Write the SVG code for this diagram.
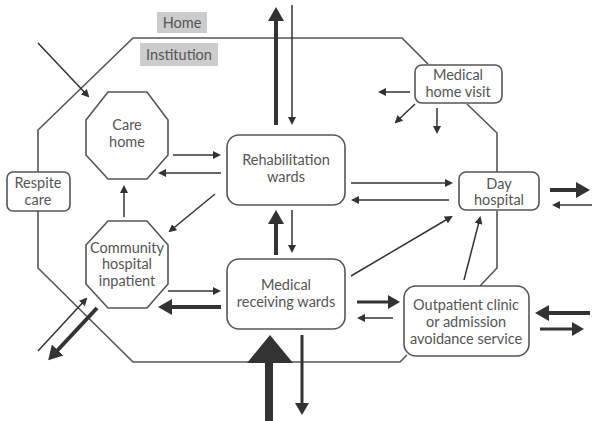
<svg xmlns="http://www.w3.org/2000/svg" width="592" height="421" viewBox="0 0 592 421">
<style>
.bg{fill:#fff}
.node{fill:#fff;stroke:#555;stroke-width:1.6}
.lbl{fill:#ccc}
.t{font-family:Lato,"Open Sans","DejaVu Sans",sans-serif;font-size:14.5px;fill:#555;text-anchor:middle}
.bound{fill:none;stroke:#555;stroke-width:1.6}
.thin{fill:none;stroke:#333;stroke-width:1.5;marker-end:url(#ah)}
.med{fill:none;stroke:#333;stroke-width:3;marker-end:url(#am)}
.thick{fill:none;stroke:#333;stroke-width:4;marker-end:url(#at)}
</style>
<defs>
<marker id="ah" markerUnits="userSpaceOnUse" viewBox="0 0 8 8" markerWidth="8" markerHeight="8" refX="6" refY="4" orient="auto"><path d="M0,0 L8,4 L0,8 z" fill="#333"/></marker>
<marker id="am" markerUnits="userSpaceOnUse" viewBox="0 0 12 14" markerWidth="12" markerHeight="14" refX="3" refY="7" orient="auto"><path d="M0,0 L12,7 L0,14 z" fill="#333"/></marker>
<marker id="at" markerUnits="userSpaceOnUse" viewBox="0 0 14 16" markerWidth="14" markerHeight="16" refX="4" refY="8" orient="auto"><path d="M0,0 L14,8 L0,16 z" fill="#333"/></marker>
</defs>
<rect class="bg" x="0" y="0" width="592" height="421"/>
<g id="boundary">
<path class="bound" d="M38,172 L38,130 L133,38 L402,38 L428,64 M467,104 L497,133 L497,172 M497,211 L497,268 L480,286 M407,355 L400,362 L133,362 L38,268 L38,211"/>
</g>
<g id="label-home"><rect class="lbl" x="157" y="12" width="50" height="21"/><text class="t" x="182" y="28">Home</text></g>
<g id="label-institution"><rect class="lbl" x="140" y="43" width="78" height="23"/><text class="t" x="179" y="60">Institution</text></g>
<g id="connectors">
<path class="thin" d="M38,43 L88,96"/>
<path class="thick" d="M276,125 L276,17"/>
<path class="thin" d="M292,5 L292,123"/>
<path class="thin" d="M173,155 L219,155"/>
<path class="thin" d="M221,173 L160,173"/>
<path class="thin" d="M124,217 L124,187"/>
<path class="thin" d="M215,194 L170,231"/>
<path class="thick" d="M276,255 L276,220"/>
<path class="thin" d="M292,210 L292,251"/>
<path class="thin" d="M168,291 L219,291"/>
<path class="thick" d="M221,307 L168,307"/>
<path class="thin" d="M38,351 L86,299"/>
<path class="thick" d="M97,308 L55,353"/>
<path d="M265,421 L265,363 L247,363 L270,335 L293,363 L273,363 L273,421 z" fill="#333"/>
<path class="med" d="M302,335 L302,406"/>
<path class="med" d="M357,302 L391,302"/>
<path class="thin" d="M393,318 L359,318"/>
<path class="thin" d="M351,276 L451,217"/>
<path class="thin" d="M464,280 L480,218"/>
<path class="thin" d="M351,183 L451,183"/>
<path class="thin" d="M449,200 L353,200"/>
<path class="thick" d="M550,190 L580,190"/>
<path class="thin" d="M592,205 L554,205"/>
<path class="thick" d="M590,313 L545,313"/>
<path class="med" d="M540,329 L575,329"/>
<path class="thin" d="M410,92 L380,92"/>
<path class="thin" d="M415,104 L396,122"/>
<path class="thin" d="M437,108 L437,132"/>
</g>
<g id="respite-care"><rect class="node" x="7" y="172" width="63" height="39" rx="6"/><text class="t" x="38" y="188">Respite</text><text class="t" x="38" y="205">care</text></g>
<g id="care-home"><polygon class="node" points="108,92 147,92 168,120 168,155 147,179 108,179 86,155 86,120"/><text class="t" x="127" y="130">Care</text><text class="t" x="127" y="147">home</text></g>
<g id="community-hospital"><polygon class="node" points="108,221 147,221 168,245 168,284 147,308 108,308 86,284 86,245"/><text class="t" x="127" y="253">Community</text><text class="t" x="127" y="269">hospital</text><text class="t" x="127" y="286">inpatient</text></g>
<g id="rehabilitation-wards"><rect class="node" x="227" y="135" width="118" height="70" rx="12"/><text class="t" x="286" y="165">Rehabilitation</text><text class="t" x="286" y="182">wards</text></g>
<g id="medical-receiving-wards"><rect class="node" x="227" y="259" width="118" height="70" rx="12"/><text class="t" x="286" y="290">Medical</text><text class="t" x="286" y="307">receiving wards</text></g>
<g id="medical-home-visit"><rect class="node" x="415" y="65" width="87" height="38" rx="7"/><text class="t" x="458" y="80">Medical</text><text class="t" x="458" y="97">home visit</text></g>
<g id="day-hospital"><rect class="node" x="459" y="172" width="80" height="38" rx="7"/><text class="t" x="499" y="189">Day</text><text class="t" x="499" y="205">hospital</text></g>
<g id="outpatient-clinic"><rect class="node" x="404" y="286" width="125" height="70" rx="12"/><text class="t" x="466" y="310">Outpatient clinic</text><text class="t" x="466" y="327">or admission</text><text class="t" x="466" y="344">avoidance service</text></g>
</svg>
